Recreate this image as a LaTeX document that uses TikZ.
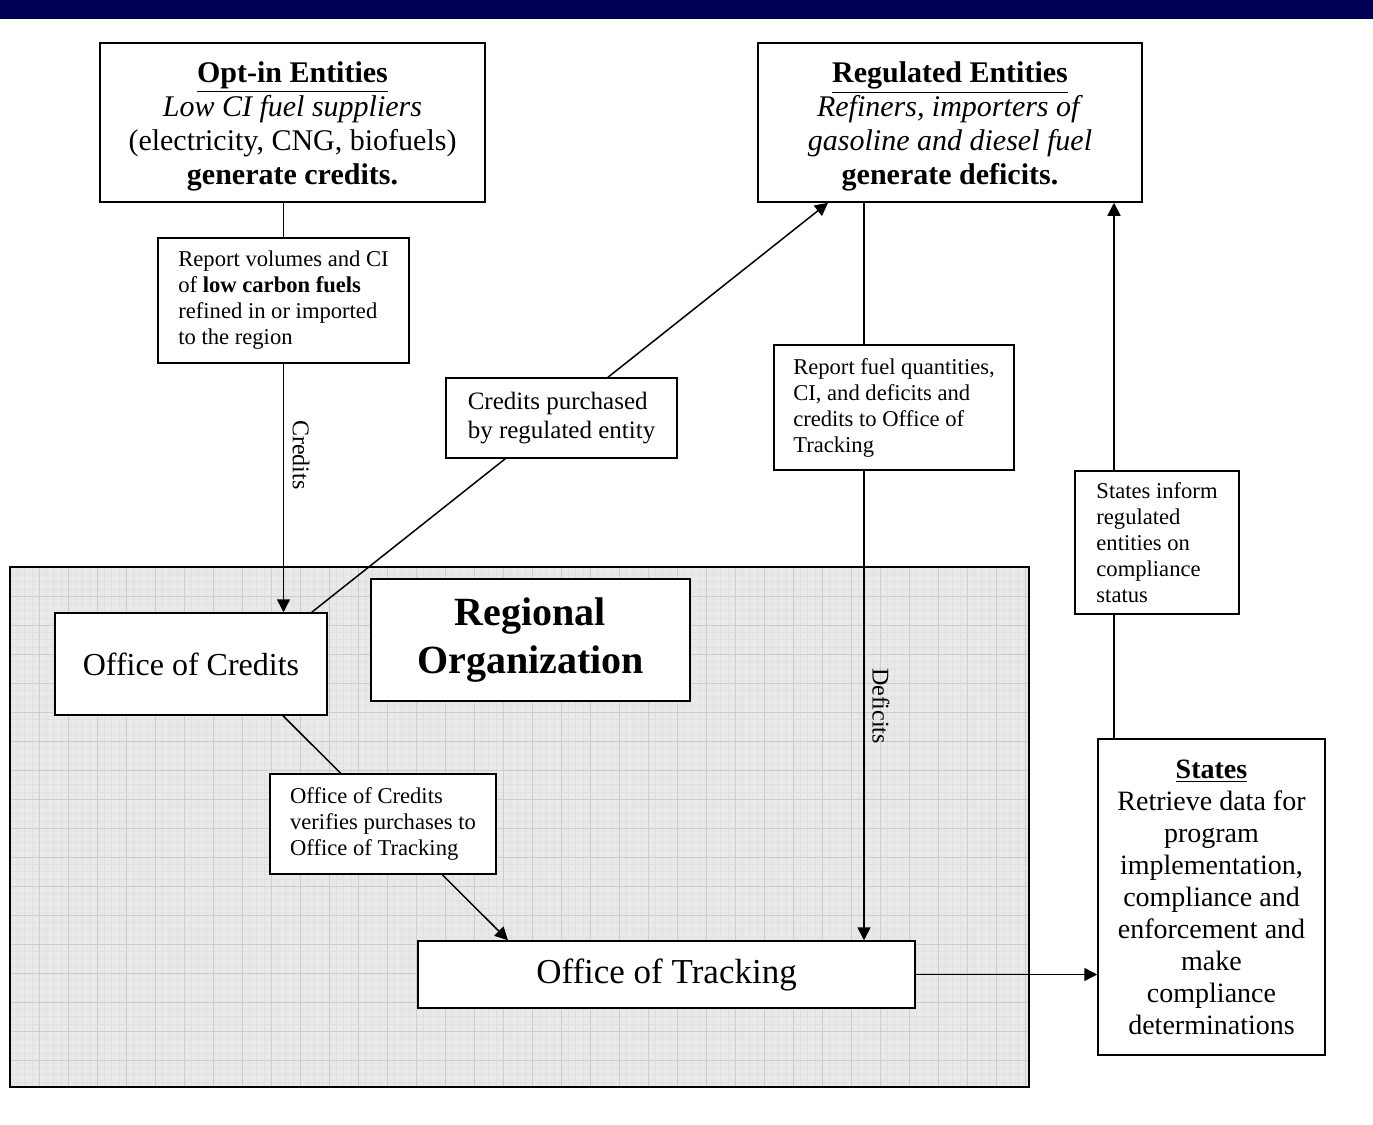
\documentclass[tikz,border=0pt]{standalone}
\usepackage{fontspec}
\setmainfont{Liberation Serif}
\usetikzlibrary{arrows.meta,calc}
\pgfdeclarelayer{bg}
\pgfdeclarelayer{lines}
\pgfsetlayers{bg,lines,main}
\definecolor{navybar}{RGB}{0,0,85}
\definecolor{gridfill}{RGB}{233,233,233}
\definecolor{gridmajor}{RGB}{204,204,204}
\definecolor{gridminor}{RGB}{224,224,224}
\begin{document}
\begin{tikzpicture}[x=0.5pt,y=-0.5pt,
  box/.style={draw=black,line width=0.75pt,fill=white,rectangle,inner sep=0pt,anchor=center},
  bigtxt/.style={font=\fontsize{15}{17}\selectfont,align=center},
  smalltxt/.style={font=\fontsize{11.3}{13}\selectfont,align=left},
  conn/.style={draw=black,line width=0.75pt},
  arr/.style={conn,-{Triangle[length=6.5pt,width=6.5pt]}},
  rotlabel/.style={font=\fontsize{12}{14}\selectfont,rotate=-90,inner sep=0pt}
]
\useasboundingbox (0,0) rectangle (1373,1125);
\fill[navybar] (0,0) rectangle (1373,19);

% nodes
\node[box,bigtxt,minimum width=192.5pt,minimum height=79.5pt] (optin) at (292.5,122.5)
  {\rule{0pt}{14.5pt}\textbf{\underline{Opt-in Entities}}\\ \textit{Low CI fuel suppliers}\\ (electricity, CNG, biofuels)\\ \textbf{generate credits.}};
\node[box,bigtxt,minimum width=192pt,minimum height=79.5pt] (reg) at (950,122.5)
  {\rule{0pt}{14.5pt}\textbf{\underline{Regulated Entities}}\\ \textit{Refiners, importers of}\\ \textit{gasoline and diesel fuel}\\ \textbf{generate deficits.}};
\node[box,smalltxt,minimum width=125.5pt,minimum height=62.5pt] (rep1) at (283.5,300.5)
  {Report volumes and CI\\ of \textbf{low carbon fuels}\\ refined in or imported\\ to the region};
\node[box,font=\fontsize{12.5}{14.5}\selectfont,align=left,minimum width=115.5pt,minimum height=40pt] (purch) at (561.5,418)
  {Credits purchased\\ by regulated entity};
\node[box,font=\fontsize{16}{18}\selectfont,minimum width=136pt,minimum height=51pt] (coff) at (191,664)
  {Office of Credits};
\node[box,font=\fontsize{20}{24}\selectfont\bfseries,align=center,minimum width=159.5pt,minimum height=61pt] (regorg) at (530.5,640)
  {Regional\\ Organization};
\node[box,smalltxt,minimum width=120pt,minimum height=62.5pt] (rep2) at (894,407.5)
  {Report fuel quantities,\\ CI, and deficits and\\ credits to Office of\\ Tracking};
\node[box,smalltxt,minimum width=113pt,minimum height=50pt] (verify) at (383,824)
  {Office of Credits\\ verifies purchases to\\ Office of Tracking};
\node[box,font=\fontsize{17.5}{20}\selectfont,minimum width=248.5pt,minimum height=33.5pt] (trk) at (666.5,974.5)
  {Office of Tracking};
\node[box,font=\fontsize{14}{16}\selectfont,align=center,minimum width=113.5pt,minimum height=158pt] (states) at (1211.5,897)
  {\textbf{\underline{States}}\\ Retrieve data for\\ program\\ implementation,\\ compliance and\\ enforcement and\\ make\\ compliance\\ determinations};
\node[box,smalltxt,minimum width=82pt,minimum height=71.5pt] (inform) at (1157,542.5)
  {States inform\\ regulated\\ entities on\\ compliance\\ status};

\node[rotlabel] (lblcred) at (301,455) {Credits};
\node[rotlabel] (lbldef) at (881,706) {Deficits};

% background grid area
\begin{pgfonlayer}{bg}
  \fill[gridfill] (10,567) rectangle (1029,1087);
  \foreach \i in {0,...,140} {\draw[gridminor,line width=0.2pt] (10+\i*7.25,567) -- (10+\i*7.25,1087);}
  \foreach \j in {0,...,71} {\draw[gridminor,line width=0.2pt] (10,567+\j*7.25) -- (1029,567+\j*7.25);}
  \foreach \i in {1,...,35} {\draw[gridmajor,line width=0.5pt] (10+\i*29,567) -- (10+\i*29,1087);}
  \foreach \j in {1,...,17} {\draw[gridmajor,line width=0.5pt] (10,567+\j*29) -- (1029,567+\j*29);}
  \draw[black,line width=0.75pt] (10,567) rectangle (1029,1087);
\end{pgfonlayer}

% connectors
\begin{pgfonlayer}{lines}
  \draw[conn] (rep1.north) -- (rep1.north |- optin.south);
  \draw[arr] (rep1.south) -- (rep1.south |- coff.north);
  \draw[arr] ([xshift=-8pt]coff.north east) -- ([xshift=-61pt]reg.south);
  \draw[arr] ([xshift=-43pt]reg.south) -- ([xshift=-43pt]reg.south |- trk.north);
  \draw[arr] ([xshift=46pt]coff.south) -- ([xshift=-79.25pt]trk.north);
  \draw[arr] (trk.east) -- (trk.east -| states.west);
  \draw[arr] ([xshift=-48.75pt]states.north) -- ([xshift=-48.75pt]states.north |- reg.south);
\end{pgfonlayer}
\end{tikzpicture}
\end{document}
